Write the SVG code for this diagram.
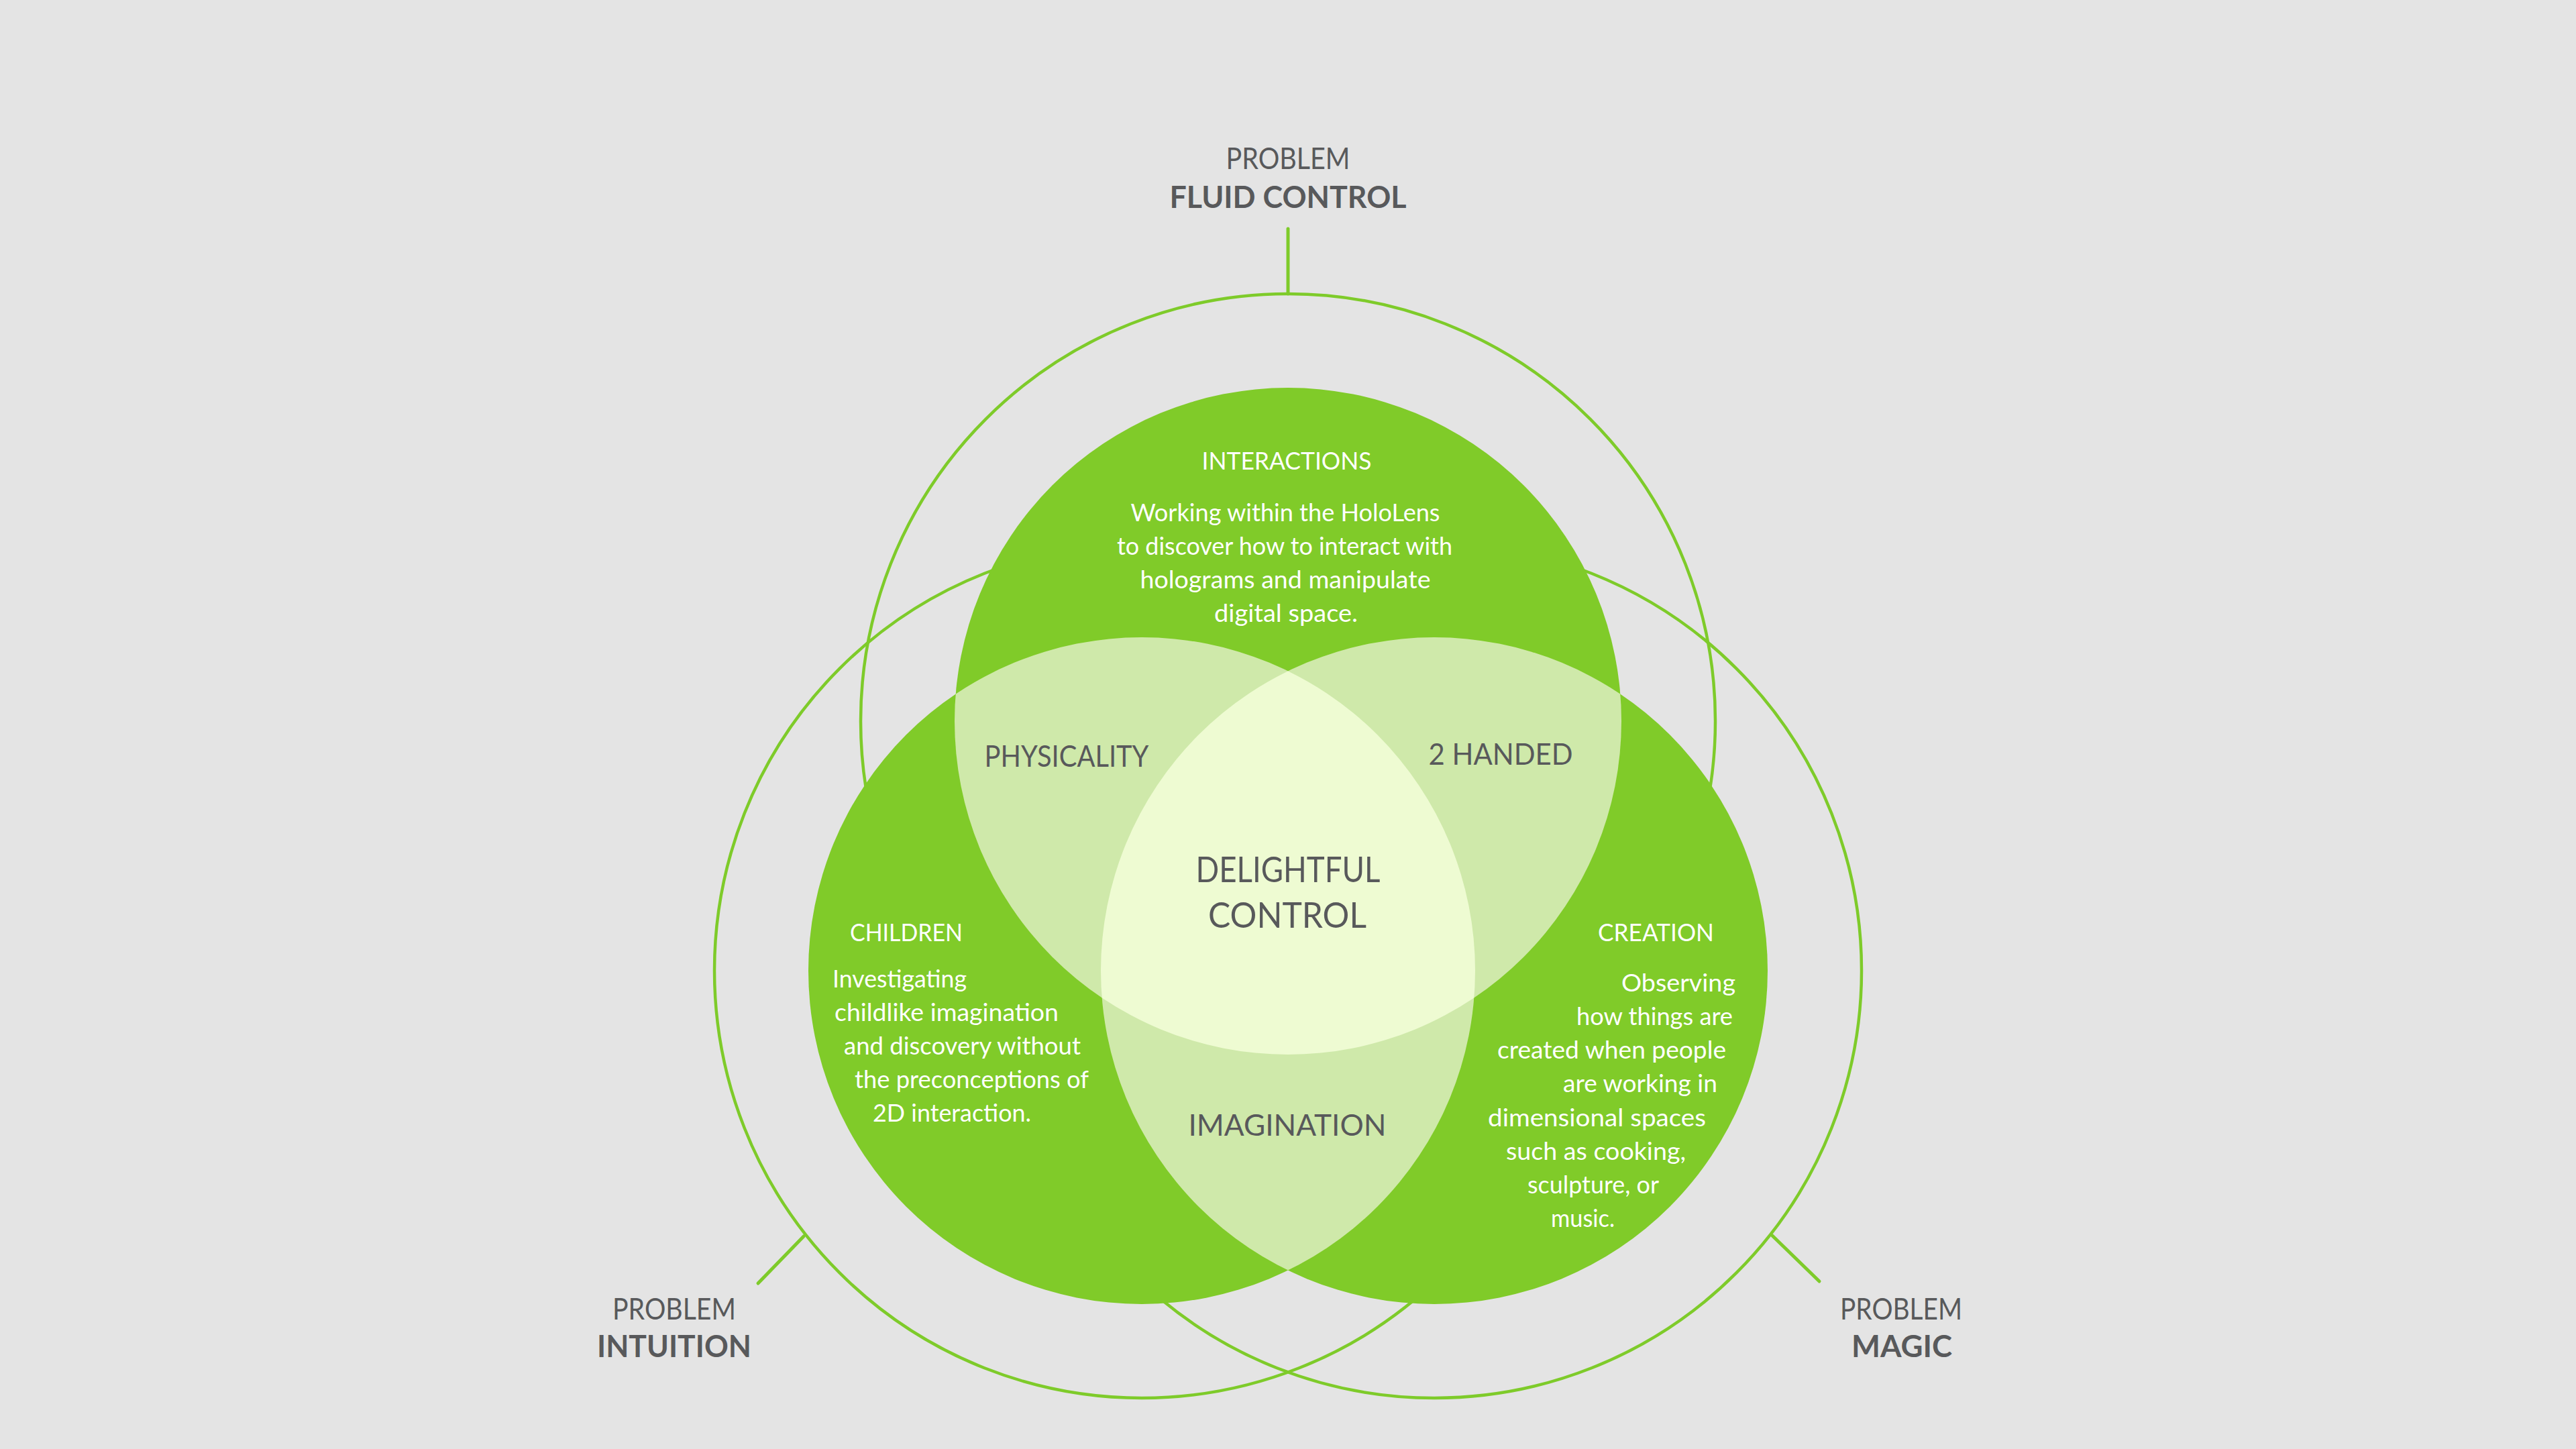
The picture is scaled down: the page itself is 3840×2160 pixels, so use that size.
<svg xmlns="http://www.w3.org/2000/svg" width="3840" height="2160" viewBox="0 0 3840 2160">
<style>
.ring{fill:none;stroke:#7ecb2a;stroke-width:4.5}
.conn{fill:none;stroke:#7ecb2a;stroke-width:5;stroke-linecap:round}
.green{fill:#80cb29}
.pair{fill:#cfe9aa}
.tri{fill:#eefbd2}
.pl{font-family:Lato,"Noto Sans",sans-serif;font-size:44px;fill:#58595b;text-anchor:middle}
.pb{font-family:Lato,"Noto Sans",sans-serif;font-size:45px;font-weight:bold;fill:#58595b;text-anchor:middle}
.hd{font-family:Lato,"Noto Sans",sans-serif;font-size:37px;fill:#ffffff}
.bd{font-family:Lato,"Noto Sans",sans-serif;font-size:36px;fill:#ffffff}
.rg{font-family:Lato,"Noto Sans",sans-serif;font-size:44px;fill:#58595b;text-anchor:middle}
.ct{font-family:Lato,"Noto Sans",sans-serif;font-size:52px;fill:#58595b;text-anchor:middle}
.mid{text-anchor:middle}
.st{text-anchor:start}
</style>
<defs>
<clipPath id="clipTop"><circle cx="1920" cy="1075" r="497"/></clipPath>
<clipPath id="clipLeft"><circle cx="1702" cy="1447" r="497"/></clipPath>
<clipPath id="clipRight"><circle cx="2138" cy="1447" r="497"/></clipPath>
</defs>
<rect width="3840" height="2160" fill="#e4e4e4"/>

<g id="problem-fluid-control">
<circle class="ring" cx="1920" cy="1075" r="637"/>
<text class="pl" x="1920" y="252" textLength="185" lengthAdjust="spacingAndGlyphs">PROBLEM</text>
<text class="pb" x="1920" y="310" textLength="353" lengthAdjust="spacingAndGlyphs">FLUID CONTROL</text>
</g>
<g id="problem-intuition">
<circle class="ring" cx="1702" cy="1447" r="637"/>
<text class="pl" x="1005" y="1967" textLength="184" lengthAdjust="spacingAndGlyphs">PROBLEM</text>
<text class="pb" x="1005" y="2023" textLength="230" lengthAdjust="spacingAndGlyphs">INTUITION</text>
</g>
<g id="problem-magic">
<circle class="ring" cx="2138" cy="1447" r="637"/>
<text class="pl" x="2834" y="1967" textLength="182" lengthAdjust="spacingAndGlyphs">PROBLEM</text>
<text class="pb" x="2835" y="2023" textLength="150" lengthAdjust="spacingAndGlyphs">MAGIC</text>
</g>

<g id="connectors">
<line class="conn" x1="1920" y1="341" x2="1920" y2="438"/>
<line class="conn" x1="1130" y1="1913" x2="1198" y2="1843"/>
<line class="conn" x1="2642" y1="1842" x2="2712" y2="1910"/>
</g>

<g id="interactions">
<circle class="green" cx="1920" cy="1075" r="497"/>
</g>
<g id="children">
<circle class="green" cx="1702" cy="1447" r="497"/>
</g>
<g id="creation">
<circle class="green" cx="2138" cy="1447" r="497"/>
</g>
<g id="overlaps">
<circle class="pair" cx="1702" cy="1447" r="497" clip-path="url(#clipTop)"/>
<circle class="pair" cx="2138" cy="1447" r="497" clip-path="url(#clipTop)"/>
<circle class="pair" cx="2138" cy="1447" r="497" clip-path="url(#clipLeft)"/>
<g clip-path="url(#clipTop)"><circle class="tri" cx="2138" cy="1447" r="497" clip-path="url(#clipLeft)"/></g>
</g>

<g id="interactions-text">
<text class="hd mid" x="1918" y="700" textLength="253" lengthAdjust="spacingAndGlyphs">INTERACTIONS</text>
<text class="bd mid" x="1916" y="777" textLength="461" lengthAdjust="spacingAndGlyphs">Working within the HoloLens</text>
<text class="bd mid" x="1915" y="827" textLength="500" lengthAdjust="spacingAndGlyphs">to discover how to interact with</text>
<text class="bd mid" x="1916" y="877" textLength="433" lengthAdjust="spacingAndGlyphs">holograms and manipulate</text>
<text class="bd mid" x="1917" y="927" textLength="214" lengthAdjust="spacingAndGlyphs">digital space.</text>
</g>
<g id="children-text">
<text class="hd st" x="1267" y="1403" textLength="168" lengthAdjust="spacingAndGlyphs">CHILDREN</text>
<text class="bd st" x="1241" y="1472" textLength="200" lengthAdjust="spacingAndGlyphs">Investigating</text>
<text class="bd st" x="1244" y="1522" textLength="334" lengthAdjust="spacingAndGlyphs">childlike imagination</text>
<text class="bd st" x="1258" y="1572" textLength="353" lengthAdjust="spacingAndGlyphs">and discovery without</text>
<text class="bd st" x="1274" y="1622" textLength="349" lengthAdjust="spacingAndGlyphs">the preconceptions of</text>
<text class="bd st" x="1301" y="1672" textLength="236" lengthAdjust="spacingAndGlyphs">2D interaction.</text>
</g>
<g id="creation-text">
<text class="hd st" x="2382" y="1403" textLength="173" lengthAdjust="spacingAndGlyphs">CREATION</text>
<text class="bd st" x="2417" y="1478" textLength="170" lengthAdjust="spacingAndGlyphs">Observing</text>
<text class="bd st" x="2350" y="1528" textLength="233" lengthAdjust="spacingAndGlyphs">how things are</text>
<text class="bd st" x="2232" y="1578" textLength="341" lengthAdjust="spacingAndGlyphs">created when people</text>
<text class="bd st" x="2330" y="1628" textLength="230" lengthAdjust="spacingAndGlyphs">are working in</text>
<text class="bd st" x="2218" y="1679" textLength="325" lengthAdjust="spacingAndGlyphs">dimensional spaces</text>
<text class="bd st" x="2245" y="1729" textLength="268" lengthAdjust="spacingAndGlyphs">such as cooking,</text>
<text class="bd st" x="2277" y="1779" textLength="196" lengthAdjust="spacingAndGlyphs">sculpture, or</text>
<text class="bd st" x="2312" y="1829" textLength="95" lengthAdjust="spacingAndGlyphs">music.</text>
</g>
<g id="physicality">
<text class="rg" x="1590" y="1143" textLength="245" lengthAdjust="spacingAndGlyphs">PHYSICALITY</text>
</g>
<g id="two-handed">
<text class="rg" x="2237" y="1140" textLength="215" lengthAdjust="spacingAndGlyphs">2 HANDED</text>
</g>
<g id="imagination">
<text class="rg" x="1919" y="1693" textLength="295" lengthAdjust="spacingAndGlyphs">IMAGINATION</text>
</g>
<g id="delightful-control">
<text class="ct" x="1920" y="1315" textLength="275" lengthAdjust="spacingAndGlyphs">DELIGHTFUL</text>
<text class="ct" x="1919" y="1383" textLength="236" lengthAdjust="spacingAndGlyphs">CONTROL</text>
</g>
</svg>
